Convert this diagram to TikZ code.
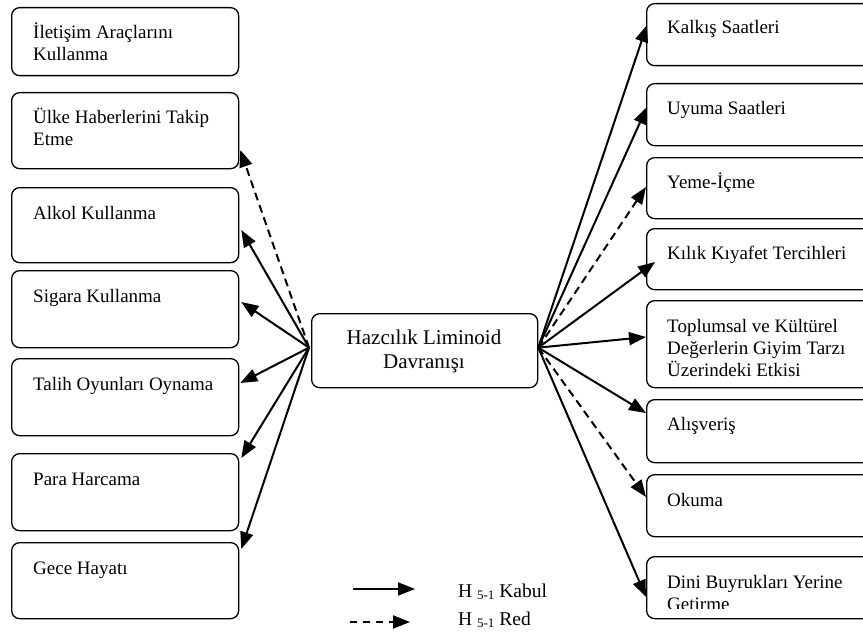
\documentclass[tikz,border=0pt]{standalone}
\usepackage{fontspec}
\setmainfont{Liberation Serif}
\usetikzlibrary{arrows.meta,calc}
\tikzset{
  box/.style={draw, line width=1.3pt, rounded corners=8pt, inner sep=0pt, anchor=north west, minimum width=227pt},
  rbox/.style={box, minimum width=240pt},
  txt/.style={inner sep=0pt, anchor=base west, align=left, font=\fontsize{19}{22}\selectfont},
  conn/.style={line width=2pt, -{Triangle[length=17pt,width=13pt]}},
  rejected/.style={conn, dash pattern=on 8pt off 5pt},
}
\newcommand{\subtxt}[1]{\raisebox{-2pt}{\fontsize{13}{13}\selectfont #1}}
\begin{document}
\begin{tikzpicture}[x=1pt,y=-1pt]
\useasboundingbox (0,0) rectangle (863,634);
\clip (0,0) rectangle (863,634);
% left boxes
\node[box, minimum height=68pt] (l1) at (11,7) {};
\node[txt] (l1t) at (33,61) {İletişim Araçlarını\\Kullanma};
\node[box, minimum height=76pt] (l2) at (11,92) {};
\node[txt] (l2t) at (33,146) {Ülke Haberlerini Takip\\Etme};
\node[box, minimum height=75pt] (l3) at (11,187) {};
\node[txt] (l3t) at (33,219) {Alkol Kullanma};
\node[box, minimum height=77pt] (l4) at (11,270) {};
\node[txt] (l4t) at (33,302) {Sigara Kullanma};
\node[box, minimum height=77pt] (l5) at (11,358) {};
\node[txt] (l5t) at (33,390) {Talih Oyunları Oynama};
\node[box, minimum height=77pt] (l6) at (11,453) {};
\node[txt] (l6t) at (33,485) {Para Harcama};
\node[box, minimum height=76pt] (l7) at (11,542) {};
\node[txt] (l7t) at (33,574) {Gece Hayatı};
% center
\node[box, minimum width=226pt, minimum height=74pt] (c) at (311,313) {};
\node[inner sep=0pt, align=center, font=\fontsize{21}{24}\selectfont] (ct) at (424,351) {Hazcılık Liminoid\\Davranışı};
% right boxes
\node[rbox, minimum height=62pt] (r1) at (646,3) {};
\node[txt] (r1t) at (667,34) {Kalkış Saatleri};
\node[rbox, minimum height=62pt] (r2) at (646,83) {};
\node[txt] (r2t) at (667,114) {Uyuma Saatleri};
\node[rbox, minimum height=61pt] (r3) at (646,157) {};
\node[txt] (r3t) at (667,188) {Yeme-İçme};
\node[rbox, minimum height=61pt] (r4) at (646,228) {};
\node[txt] (r4t) at (667,259) {Kılık Kıyafet Tercihleri};
\node[rbox, minimum height=87pt] (r5) at (646,300) {};
\node[txt] (r5t) at (667,376) {Toplumsal ve Kültürel\\Değerlerin Giyim Tarzı\\Üzerindeki Etkisi};
\node[rbox, minimum height=63pt] (r6) at (646,399) {};
\node[txt] (r6t) at (667,430) {Alışveriş};
\node[rbox, minimum height=62pt] (r7) at (646,474) {};
\node[txt] (r7t) at (667,506) {Okuma};
\node[rbox, minimum height=62pt] (r8) at (646,556) {};
\begin{scope}
\clip (650,556) rectangle (860,608);
\node[txt] (r8t) at (667,610) {Dini Buyrukları Yerine\\Getirme};
\end{scope}
% connectors left
\coordinate (cw) at ($(c.west)+(-2,-3)$);
\coordinate (ce) at ($(c.east)+(0,-3)$);
\draw[rejected] (cw) -- ($(l2.north east)+(1,58)$);
\draw[conn] (cw) -- ($(l3.north east)+(2,43)$);
\draw[conn] (cw) -- ($(l4.north east)+(2,32)$);
\draw[conn] (cw) -- ($(l5.north east)+(1,25)$);
\draw[conn] (cw) -- ($(l6.north east)+(2,5)$);
\draw[conn] (cw) -- ($(l7.north east)+(2,7)$);
% connectors right
\draw[conn] (ce) -- ($(r1.north west)+(1,22)$);
\draw[conn] (ce) -- ($(r2.north west)+(1,24)$);
\draw[rejected] (ce) -- ($(r3.north west)+(0,30)$);
\draw[conn] (ce) -- ($(r4.north west)+(9,34)$);
\draw[conn] (ce) -- ($(r5.north west)+(0,37)$);
\draw[conn] (ce) -- ($(r6.north west)+(0,14)$);
\draw[rejected] (ce) -- ($(r7.north west)+(0,23)$);
\draw[conn] (ce) -- ($(r8.north west)+(0,41)$);
% legend
\coordinate (ls1) at (353,589);
\coordinate (le1) at (415,589);
\coordinate (ls2) at (350,622);
\coordinate (le2) at (410,622);
\draw[conn] (ls1) -- (le1);
\draw[rejected, dash pattern=on 7pt off 6pt] (ls2) -- (le2);
\node[inner sep=0pt, anchor=base west, font=\fontsize{19.5}{20}\selectfont] (k1) at (458,597) {H \subtxt{5-1} Kabul};
\node[inner sep=0pt, anchor=base west, font=\fontsize{19.5}{20}\selectfont] (k2) at (458,625) {H \subtxt{5-1} Red};
\end{tikzpicture}
\end{document}
